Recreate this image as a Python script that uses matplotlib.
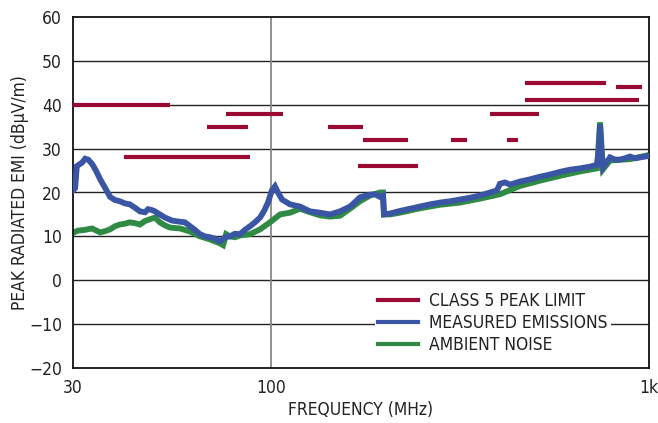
import numpy as np
import matplotlib
matplotlib.use("Agg")
import matplotlib.pyplot as plt

plt.rcParams['font.family'] = ['DejaVu Sans']
plt.rcParams['font.stretch'] = 'condensed'

# class 5 peak limit segments: start MHz, stop MHz, level dBuV/m
limit_start = [30, 41, 68, 76, 142, 175, 170, 300, 380, 420, 470, 470, 820]
limit_stop = [54, 88, 87, 108, 175, 230, 245, 330, 512, 450, 770, 940, 960]
limit_level = [40, 28, 35, 38, 35, 32, 26, 32, 38, 32, 45, 41, 44]

# measured emissions (blue)
meas_freq = [30.0, 30.4, 30.7, 31.3, 31.7, 32.3, 32.9, 33.7, 34.5, 35.4, 36.5, 37.6,
             38.7, 39.9, 41.2, 42.4, 43.8, 45.1, 46.5, 47.4, 48.5, 49.4, 50.9, 52.5,
             54.8, 56.9, 59.3, 61.2, 63.0, 65.0, 67.0, 69.1, 71.2, 73.4, 75.7, 78.0,
             80.4, 82.9, 85.5, 88.1, 90.8, 93.7, 96.0, 98.3, 100.7, 102.6, 104.5, 107.1,
             112.4, 119.5, 127.0, 134.9, 143.4, 152.4, 162.0, 167.0, 172.1, 182.9, 188.6,
             194.4, 198.0, 199.2, 206.6, 219.6, 233.4, 248.1, 263.6, 280.2, 297.8, 316.4,
             336.3, 357.4, 379.9, 396.4, 403.7, 416.2, 429.0, 456.0, 484.6, 515.1, 547.4,
             581.8, 618.3, 657.2, 698.4, 728.8, 737.7, 742.3, 746.8, 755.8, 774.5, 788.8,
             813.0, 838.3, 864.0, 890.8, 918.2, 946.6, 994.0]
meas_db = [20.5, 21.0, 26.0, 26.5, 26.8, 27.7, 27.5, 26.5, 25.0, 23.0, 21.0, 19.0,
           18.3, 18.0, 17.5, 17.3, 16.5, 15.7, 15.5, 16.2, 16.0, 15.7, 15.0, 14.3,
           13.6, 13.4, 13.2, 12.3, 11.5, 10.5, 10.0, 9.8, 9.5, 8.9, 9.8, 10.0,
           10.6, 10.5, 11.5, 12.3, 13.2, 14.3, 15.8, 17.7, 20.5, 21.4, 20.0, 18.4,
           17.3, 16.8, 15.7, 15.4, 15.0, 15.7, 16.8, 17.8, 18.9, 19.5, 19.6,
           19.0, 19.3, 15.0, 15.2, 15.8, 16.3, 16.8, 17.3, 17.7, 18.0, 18.4,
           18.8, 19.3, 20.0, 20.5, 22.0, 22.3, 21.8, 22.5, 23.0, 23.6, 24.1,
           24.7, 25.2, 25.5, 25.9, 26.3, 30.0, 35.5, 30.0, 25.7, 27.0, 28.0,
           27.5, 27.5, 27.8, 28.2, 27.8, 28.0, 28.3]

# ambient noise (green)
amb_freq = [30.0, 30.9, 32.3, 33.7, 35.4, 36.5, 37.6, 38.7, 39.9, 41.2, 42.4, 43.8,
            45.1, 46.5, 47.9, 49.4, 50.9, 52.5, 54.2, 57.6, 61.2, 65.0, 69.1, 73.4,
            74.8, 76.2, 78.0, 80.4, 82.9, 88.1, 93.7, 99.5, 105.8, 112.4, 119.5, 127.0,
            134.9, 143.4, 152.4, 162.0, 172.1, 182.9, 194.4, 198.0, 199.2, 206.6, 219.6,
            248.1, 280.2, 316.4, 357.4, 403.7, 456.0, 515.1, 581.8, 657.2, 728.8, 742.3,
            755.8, 788.8, 890.8, 994.0]
amb_db = [10.8, 11.3, 11.5, 11.8, 10.9, 11.2, 11.6, 12.3, 12.7, 12.9, 13.2, 13.0,
          12.7, 13.5, 13.9, 14.3, 13.2, 12.5, 12.0, 11.8, 11.1, 10.0, 9.3, 8.4,
          8.0, 10.5, 10.0, 9.8, 10.2, 10.5, 11.6, 13.2, 15.0, 15.4, 16.3, 15.5,
          14.8, 14.5, 14.7, 16.3, 18.0, 19.3, 20.0, 20.0, 15.0, 15.0, 15.4,
          16.4, 17.2, 17.7, 18.6, 19.6, 21.5, 22.7, 23.8, 24.8, 25.5, 36.0,
          25.3, 27.3, 27.6, 28.5]

red = '#9b0a33'
blue = '#3b55a5'
green = '#2f8a44'

W, H = 658, 423
fig = plt.figure(figsize=(W / 100, H / 100), dpi=100)
ax = fig.add_axes([73 / W, 1 - 368 / H, 576 / W, 351 / H])

for yv in range(-10, 60, 10):
    ax.axhline(yv, color='#222222', lw=1.0, zorder=1)
ax.axvline(100, color='#888888', lw=1.3, zorder=1)

ax.plot(amb_freq, amb_db, color=green, lw=4.2, solid_joinstyle='miter', zorder=2)
ax.plot(meas_freq, meas_db, color=blue, lw=4.2, solid_joinstyle='miter', zorder=3)
for a, b, lev in zip(limit_start, limit_stop, limit_level):
    ax.plot([a, b], [lev, lev], color=red, lw=3.0, solid_capstyle='butt', zorder=4)

ax.set_xscale('log')
ax.set_xlim(30, 1000)
ax.set_ylim(-20, 60)
ax.set_xticks([30, 100, 1000])
ax.set_xticklabels(['30', '100', '1k'])
ax.minorticks_off()
ax.set_yticks(range(-20, 61, 10))
ax.set_yticklabels([str(v).replace('-', '\u2212') for v in range(-20, 61, 10)])
ax.tick_params(length=0, labelsize=12.5, colors='#222222', pad=8)
for s in ax.spines.values():
    s.set_linewidth(1.3)
    s.set_color('#111111')

ax.set_xlabel('FREQUENCY (MHz)', fontsize=12.5, color='#222222', labelpad=3)
ax.set_ylabel('PEAK RADIATED EMI (dB\u00b5V/m)', fontsize=12.5, color='#222222', labelpad=0)

handles = [plt.Line2D([], [], color=c, lw=3) for c in (red, blue, green)]
leg = fig.legend(handles, ['CLASS 5 PEAK LIMIT', 'MEASURED EMISSIONS', 'AMBIENT NOISE'],
                 loc='upper left', bbox_to_anchor=(375 / W, 1 - 289 / H),
                 frameon=True, fancybox=False, edgecolor='none', facecolor='white',
                 framealpha=1, fontsize=12.5, handlelength=2.3, handletextpad=0.6,
                 labelspacing=0.22, borderpad=0.2, borderaxespad=0)
for t in leg.get_texts():
    t.set_color('#222222')

fig.savefig('out.png', dpi=100)
